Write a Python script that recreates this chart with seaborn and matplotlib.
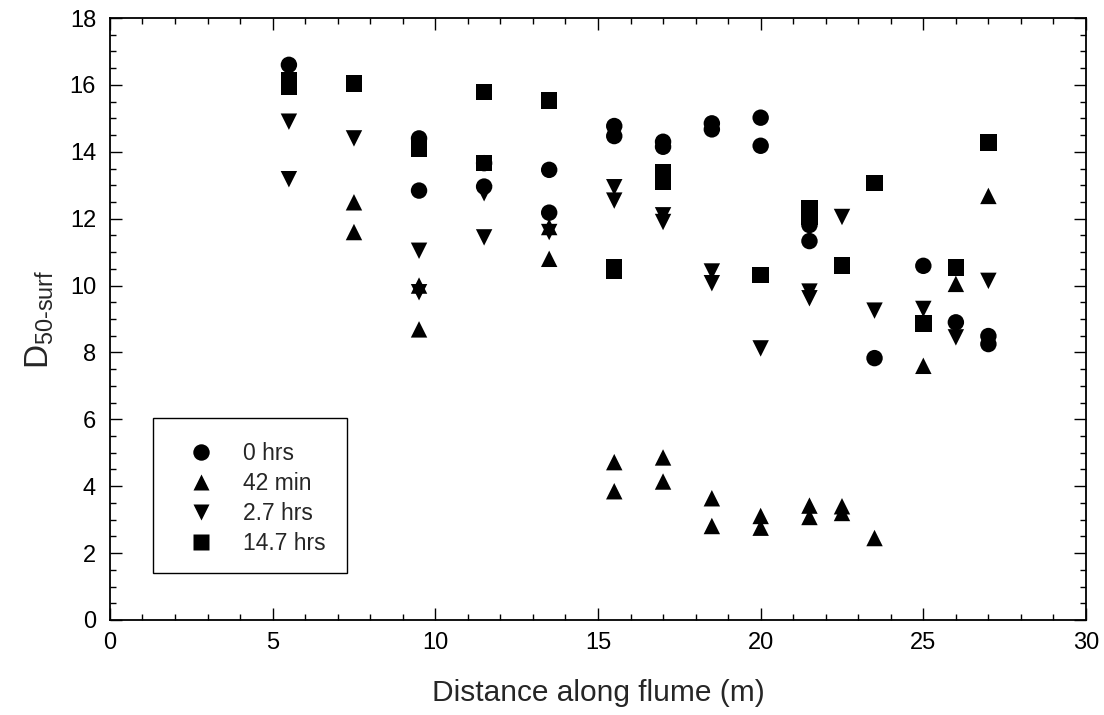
import numpy as np
import pandas as pd
import matplotlib
matplotlib.use("Agg")
import matplotlib.pyplot as plt
from matplotlib.patches import Rectangle
from matplotlib.ticker import MultipleLocator
import seaborn as sns

# Surface median grain size along the flume at four sampling times
x_0hrs = [5.5, 9.5, 9.5, 11.5, 11.5, 13.5, 13.5, 15.5, 15.5, 17, 17, 18.5, 18.5,
          20, 20, 21.5, 21.5, 23.5, 25, 26, 27, 27]
y_0hrs = [16.6, 14.4, 12.84, 13.66, 12.96, 13.46, 12.18, 14.77, 14.47, 14.3, 14.15,
          14.85, 14.67, 15.02, 14.18, 11.81, 11.33, 7.83, 10.59, 8.9, 8.49, 8.25]

x_42min = [7.5, 7.5, 9.5, 9.5, 13.5, 13.5, 15.5, 15.5, 17, 17, 18.5, 18.5, 20, 20,
           21.5, 21.5, 22.5, 22.5, 23.5, 25, 26, 27]
y_42min = [12.49, 11.6, 10.0, 8.69, 11.75, 10.8, 4.72, 3.85, 4.86, 4.14, 3.64, 2.81,
           3.11, 2.76, 3.42, 3.08, 3.4, 3.2, 2.45, 7.6, 10.05, 12.68]

x_2_7hrs = [5.5, 5.5, 7.5, 9.5, 9.5, 11.5, 11.5, 13.5, 15.5, 15.5, 17, 17, 18.5, 18.5,
            20, 21.5, 21.5, 22.5, 23.5, 25, 26, 27]
y_2_7hrs = [14.9, 13.18, 14.4, 11.04, 9.8, 12.76, 11.44, 11.6, 12.94, 12.54, 12.1, 11.9,
            10.42, 10.07, 8.12, 9.82, 9.62, 12.05, 9.25, 9.3, 8.45, 10.14]

x_14_7hrs = [5.5, 5.5, 7.5, 9.5, 11.5, 11.5, 13.5, 15.5, 15.5, 17, 17, 20, 21.5, 21.5,
             22.5, 23.5, 25, 26, 27]
y_14_7hrs = [16.15, 15.95, 16.04, 14.1, 15.78, 13.66, 15.53, 10.55, 10.45, 13.4, 13.1,
             10.32, 12.3, 12.06, 10.6, 13.06, 8.87, 10.54, 14.28]

series_labels = ["0 hrs", "42 min", "2.7 hrs", "14.7 hrs"]
series_markers = ["o", "^", "v", "s"]

frames = []
for lab, xs, ys in zip(series_labels,
                       [x_0hrs, x_42min, x_2_7hrs, x_14_7hrs],
                       [y_0hrs, y_42min, y_2_7hrs, y_14_7hrs]):
    frames.append(pd.DataFrame({"distance": xs, "d50": ys, "time": lab}))
df = pd.concat(frames, ignore_index=True)

sns.set_style("ticks")
plt.rcParams["font.family"] = ["Liberation Sans", "DejaVu Sans"]
plt.rcParams["mathtext.fontset"] = "custom"
plt.rcParams["mathtext.rm"] = "Liberation Sans"
plt.rcParams["mathtext.it"] = "Liberation Sans"

fig = plt.figure(figsize=(11.04, 7.15), dpi=100)
ax = fig.add_axes([0.0996, 0.1329, 0.8841, 0.8419])

sns.scatterplot(data=df, x="distance", y="d50", style="time",
                style_order=series_labels,
                markers=dict(zip(series_labels, series_markers)),
                color="black", edgecolor="none", s=140, ax=ax, legend=True)

ax.set_xlim(0, 30)
ax.set_ylim(0, 18)
ax.xaxis.set_major_locator(MultipleLocator(5))
ax.xaxis.set_minor_locator(MultipleLocator(1))
ax.yaxis.set_major_locator(MultipleLocator(2))
ax.yaxis.set_minor_locator(MultipleLocator(0.5))
ax.tick_params(which="both", direction="in", top=True, right=True,
               labelsize=17, colors="black")
ax.tick_params(which="major", length=8.5, width=1)
ax.tick_params(axis="y", which="major", pad=10)
ax.tick_params(axis="x", which="major", pad=9)
ax.tick_params(which="minor", length=4.5, width=1)
for sp in ax.spines.values():
    sp.set_visible(True)
    sp.set_linewidth(1.3)
    sp.set_color("black")

ax.set_xlabel("Distance along flume (m)", fontsize=21.5, labelpad=18)
ax.set_ylabel(r"D$_{\mathregular{50\text{-}surf}}$", fontsize=24, labelpad=10)

# Legend: frameless entries inside a separately drawn box
handles, labels = ax.get_legend_handles_labels()
leg = ax.legend(handles, labels, loc="center left",
                bbox_to_anchor=(0.070, 0.2018), frameon=False,
                fontsize=16.5, labelspacing=0.31, handletextpad=0.82,
                borderpad=0, borderaxespad=0, markerscale=1.0)
ax.add_patch(Rectangle((0.044, 0.078), 0.199, 0.258, transform=ax.transAxes,
                       fill=False, edgecolor="black", linewidth=1.0, zorder=5))

fig.savefig("out.png", dpi=100)
